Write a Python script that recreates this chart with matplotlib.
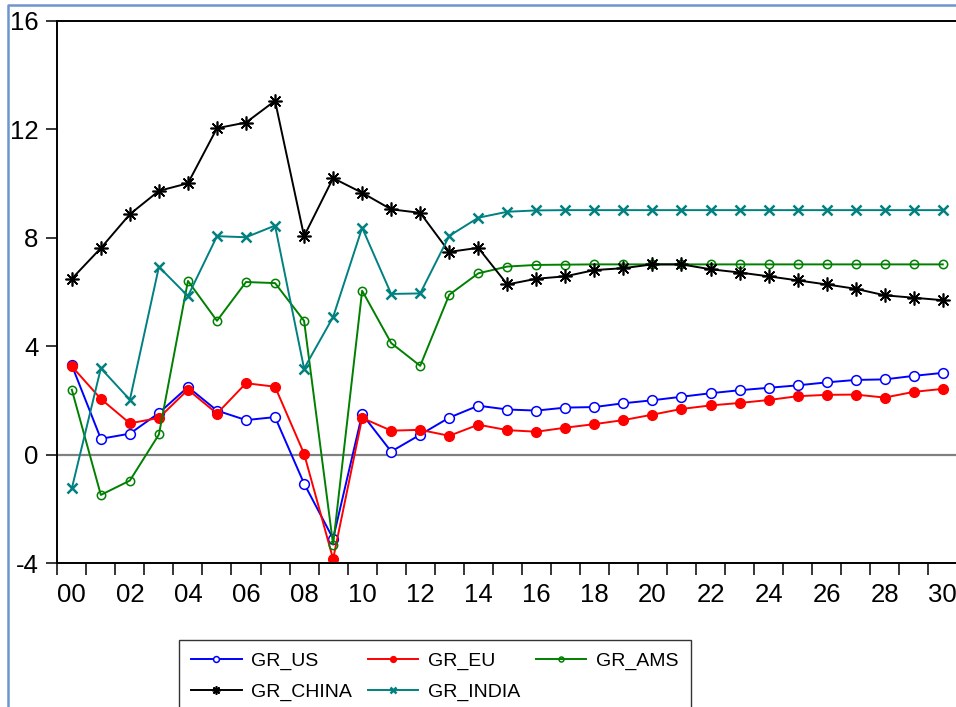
import numpy as np
import matplotlib.pyplot as plt
from matplotlib.lines import Line2D

plt.rcParams['font.family'] = ['Liberation Sans', 'DejaVu Sans']
plt.rcParams['axes.unicode_minus'] = False

# annual growth rates, 2000-2030
years = list(range(2000, 2031))
gr_us = [3.30, 0.59, 0.78, 1.54, 2.50, 1.63, 1.28, 1.39, -1.06, -3.09,
         1.50, 0.12, 0.74, 1.37, 1.81, 1.67, 1.63, 1.74, 1.76, 1.90,
         2.01, 2.14, 2.27, 2.38, 2.47, 2.56, 2.67, 2.76, 2.78, 2.91, 3.02]
gr_eu = [3.26, 2.06, 1.16, 1.36, 2.40, 1.52, 2.64, 2.51, 0.04, -3.84,
         1.36, 0.89, 0.92, 0.70, 1.11, 0.91, 0.85, 1.00, 1.13, 1.28,
         1.48, 1.69, 1.82, 1.91, 2.02, 2.16, 2.21, 2.22, 2.11, 2.32, 2.43]
gr_ams = [2.40, -1.48, -0.95, 0.75, 6.41, 4.94, 6.37, 6.33, 4.94, -3.31,
          6.05, 4.12, 3.28, 5.90, 6.69, 6.94, 7.00, 7.01, 7.02, 7.02,
          7.02, 7.02, 7.02, 7.02, 7.02, 7.02, 7.02, 7.02, 7.02, 7.02, 7.02]
gr_china = [6.49, 7.62, 8.87, 9.73, 10.01, 12.04, 12.25, 13.05, 8.06, 10.20,
            9.66, 9.05, 8.92, 7.48, 7.63, 6.28, 6.49, 6.58, 6.81, 6.88,
            7.02, 7.02, 6.84, 6.72, 6.58, 6.43, 6.28, 6.12, 5.88, 5.79, 5.70]
gr_india = [-1.24, 3.19, 2.03, 6.93, 5.85, 8.06, 8.02, 8.45, 3.18, 5.08,
            8.37, 5.93, 5.95, 8.07, 8.74, 8.96, 9.01, 9.02, 9.02, 9.02,
            9.02, 9.02, 9.02, 9.02, 9.02, 9.02, 9.02, 9.02, 9.02, 9.02, 9.02]

x = np.arange(len(years))

fig = plt.figure(figsize=(9.56, 7.07), dpi=100)
ax = fig.add_axes([57.3 / 956, 1 - 563.3 / 707, 900 / 956, 542.5 / 707])

ax.axhline(0, color='#808080', lw=1.6, zorder=1)

lw = 1.4
l_us, = ax.plot(x, gr_us, color='#0000ff', lw=lw, marker='o', ms=7, mfc='white',
                mec='#0000ff', mew=1.1, label='GR_US')
l_eu, = ax.plot(x, gr_eu, color='#ff0000', lw=lw, marker='o', ms=7, mfc='#ff0000',
                mec='#ff0000', label='GR_EU')
l_ams, = ax.plot(x, gr_ams, color='#008000', lw=lw, marker='o', ms=6, mfc='none',
                 mec='#008000', mew=1.1, label='GR_AMS')
l_cn, = ax.plot(x, gr_china, color='black', lw=lw, marker=(8, 2, 0), ms=10,
                mew=1.2, label='GR_CHINA')
l_in, = ax.plot(x, gr_india, color='#008080', lw=lw, marker='x', ms=7.5,
                mew=1.8, label='GR_INDIA')

ax.set_xlim(-0.5, 30.5)
ax.set_ylim(-4, 16)
ax.set_yticks([-4, 0, 4, 8, 12, 16])
ax.tick_params(axis='y', direction='out', length=7.6, width=1.1,
               pad=6, labelsize=18.5)

# tick marks on year boundaries, labels at the middle of every second year
ax.set_xticks(np.arange(-0.5, 31, 1.0))
ax.set_xticklabels([])
ax.set_xticks(x[::2], minor=True)
ax.set_xticklabels(['%02d' % (y % 100) for y in years[::2]], minor=True)
ax.tick_params(axis='x', which='major', direction='out', length=8.4, width=1.1)
ax.tick_params(axis='x', which='minor', length=0, pad=14, labelsize=18.5)

for s in ['left', 'top', 'bottom']:
    ax.spines[s].set_linewidth(1.4)
ax.spines['right'].set_visible(False)

# legend fills column by column, so order entries to read row by row
handles = [l_us, l_cn, l_eu, l_in, l_ams]
leg = fig.legend(handles, [h.get_label() for h in handles], ncol=3,
                 loc='upper left', bbox_to_anchor=(179 / 956, 1 - 640 / 707),
                 fontsize=14, frameon=True, fancybox=False, edgecolor='black',
                 handlelength=2.6, handletextpad=0.5, columnspacing=0.8,
                 labelspacing=0.7, borderpad=0.62, markerscale=0.6,
                 borderaxespad=0)
leg.get_frame().set_linewidth(1.0)

# window border
fig.add_artist(Line2D([8 / 956, 8 / 956, 1.0], [0, 1 - 5 / 707, 1 - 5 / 707],
                      transform=fig.transFigure, color='#6f95cc', lw=1.8))

fig.savefig('out.png', dpi=100)
